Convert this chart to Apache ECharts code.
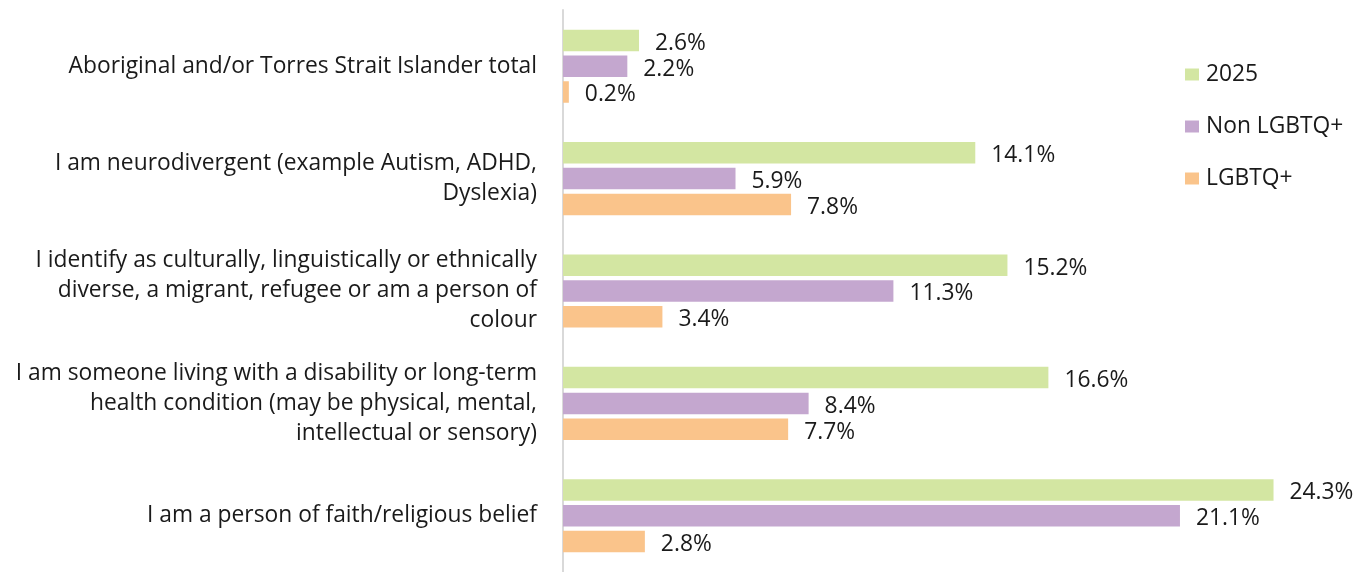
<!DOCTYPE html>
<html><head><meta charset="utf-8">
<script src="https://cdn.jsdelivr.net/npm/echarts@6/dist/echarts.min.js"></script>
<style>html,body{margin:0;padding:0;background:#fff}#c{width:1368px;height:572px}</style>
</head><body><div id="c"></div>
<script>
const categories = [
  "Aboriginal and/or Torres Strait Islander total",
  "I am neurodivergent (example Autism, ADHD,\nDyslexia)",
  "I identify as culturally, linguistically or ethnically\ndiverse, a migrant, refugee or am a person of\ncolour",
  "I am someone living with a disability or long-term\nhealth condition (may be physical, mental,\nintellectual or sensory)",
  "I am a person of faith/religious belief"
];
const seriesNames = ["2025", "Non LGBTQ+", "LGBTQ+"];
const values2025 = [2.6, 14.1, 15.2, 16.6, 24.3];
const valuesNonLGBTQ = [2.2, 5.9, 11.3, 8.4, 21.1];
const valuesLGBTQ = [0.2, 7.8, 3.4, 7.7, 2.8];
const colors = ["#D3E6A2", "#C4A7CF", "#FAC48B"];

const FONT = "'Open Sans', sans-serif";
const FS = 22.8;
const chart = echarts.init(document.getElementById('c'));
const dataSets = [values2025, valuesNonLGBTQ, valuesLGBTQ];
chart.setOption({
  animation: false,
  textStyle: {fontFamily: FONT},
  grid: {left: 563, top: 10, width: 731, height: 567, containLabel: false},
  legend: {
    orient: 'vertical', left: 1180, top: 58, itemWidth: 14, itemHeight: 12, itemGap: 29,
    icon: 'rect',
    textStyle: {fontSize: FS, color: '#1a1a1a', fontFamily: FONT, padding: [0,0,0,2]},
    data: seriesNames
  },
  xAxis: {type: 'value', min: 0, max: 25, show: false},
  yAxis: {
    type: 'category', data: categories, inverse: true,
    axisLine: {show: true, lineStyle: {color: '#D9D9D9', width: 2}},
    axisTick: {show: false},
    axisLabel: {fontSize: FS, color: '#1a1a1a', lineHeight: 30, margin: 26, align: 'right', fontFamily: FONT}
  },
  series: dataSets.map((d, i) => ({
    name: seriesNames[i], type: 'bar', data: d, barWidth: 21.5, barGap: '20%',
    itemStyle: {color: colors[i]},
    label: {show: true, position: 'right', distance: 16, offset: [0, 3], fontSize: FS, color: '#1a1a1a', fontFamily: FONT,
      formatter: p => p.value.toFixed(1) + '%'}
  }))
});
</script></body></html>
